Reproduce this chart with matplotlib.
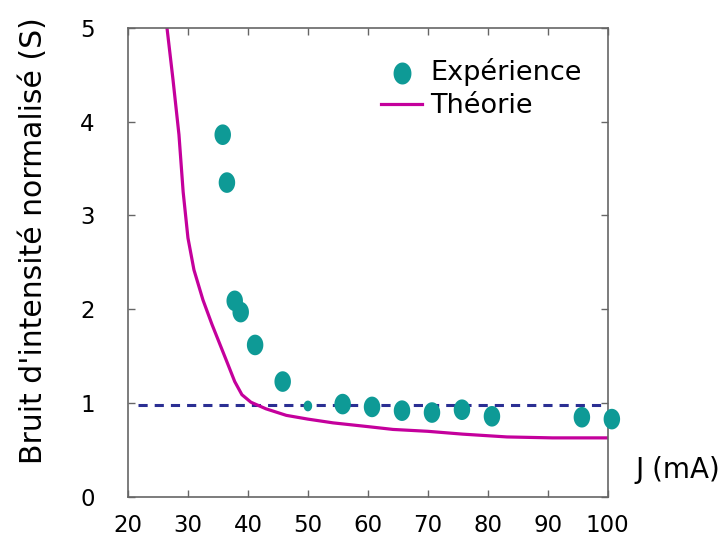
import numpy as np
import matplotlib
matplotlib.use("Agg")
import matplotlib.pyplot as plt
from matplotlib.path import Path

# Data
exp_x = [35.8, 36.5, 37.8, 38.8, 41.2, 45.8, 50.0, 55.8, 60.7, 65.7, 70.7, 75.7, 80.7, 95.7, 100.7]
exp_y = [3.86, 3.35, 2.09, 1.97, 1.62, 1.23, 0.97, 0.99, 0.96, 0.92, 0.90, 0.93, 0.86, 0.85, 0.83]

theo_x = [26.5, 27.5, 28.5, 29.2, 30, 31, 32.5, 34, 35, 36.5, 37.8, 39, 40.5, 43, 46.4, 50,
          54.2, 60, 64.2, 70, 75.8, 83.2, 90.8, 100]
theo_y = [5.0, 4.45, 3.86, 3.25, 2.76, 2.42, 2.10, 1.84, 1.68, 1.44, 1.23, 1.09, 1.01, 0.94, 0.87, 0.83,
          0.79, 0.75, 0.72, 0.70, 0.67, 0.64, 0.63, 0.63]

ref_level = 0.98
x_ticks = [20, 30, 40, 50, 60, 70, 80, 90, 100]
y_ticks = [0, 1, 2, 3, 4, 5]

teal = "#0E9A96"
magenta = "#C4009C"
navy = "#2B2F93"

fig = plt.figure(figsize=(7.26, 5.39), dpi=100)
ax = fig.add_axes([0.1763, 0.0779, 0.6607, 0.8707])

# elliptical marker
t = np.linspace(0, 2 * np.pi, 60)
ell = Path(np.column_stack([np.cos(t) * 0.8, np.sin(t)]), closed=True)

ax.axhline(ref_level, xmin=0.02, xmax=0.99, color=navy, lw=2.2, ls=(0, (3, 2.3)), zorder=1)
ax.plot(theo_x, theo_y, color=magenta, lw=2.3, zorder=2, label="Théorie")

ex = np.array(exp_x)
sizes = np.where(np.isclose(ex, 50.0), 60, 220)
ax.scatter(exp_x, exp_y, s=sizes, marker=ell, color=teal, edgecolors="none",
           zorder=3, clip_on=False)

ax.set_xlim(20, 100)
ax.set_ylim(0, 5)
ax.set_xticks(x_ticks)
ax.set_yticks(y_ticks)
ax.tick_params(direction="in", length=5, width=1, color="#666666",
               top=True, right=True, labelsize=16.5, pad=12)
ax.tick_params(axis="y", pad=24)
for s in ax.spines.values():
    s.set_color("#666666")
    s.set_linewidth(1.2)

ax.set_ylabel("Bruit d'intensité normalisé (S)", fontsize=21.5, va="center")
ax.yaxis.set_label_coords(-0.197, 0.547)
fig.text(0.933, 0.128, "J (mA)", fontsize=20, ha="center", va="center")

# legend
ax.scatter([], [], s=220, marker=ell, color=teal, label="Expérience")
h, l = ax.get_legend_handles_labels()
leg = ax.legend(h[::-1], l[::-1], loc="upper right", frameon=False, fontsize=19.5,
                handlelength=1.5, handletextpad=0.3, borderaxespad=0.3,
                labelspacing=0.25, bbox_to_anchor=(0.985, 0.975))

fig.savefig("out.png", dpi=100)
